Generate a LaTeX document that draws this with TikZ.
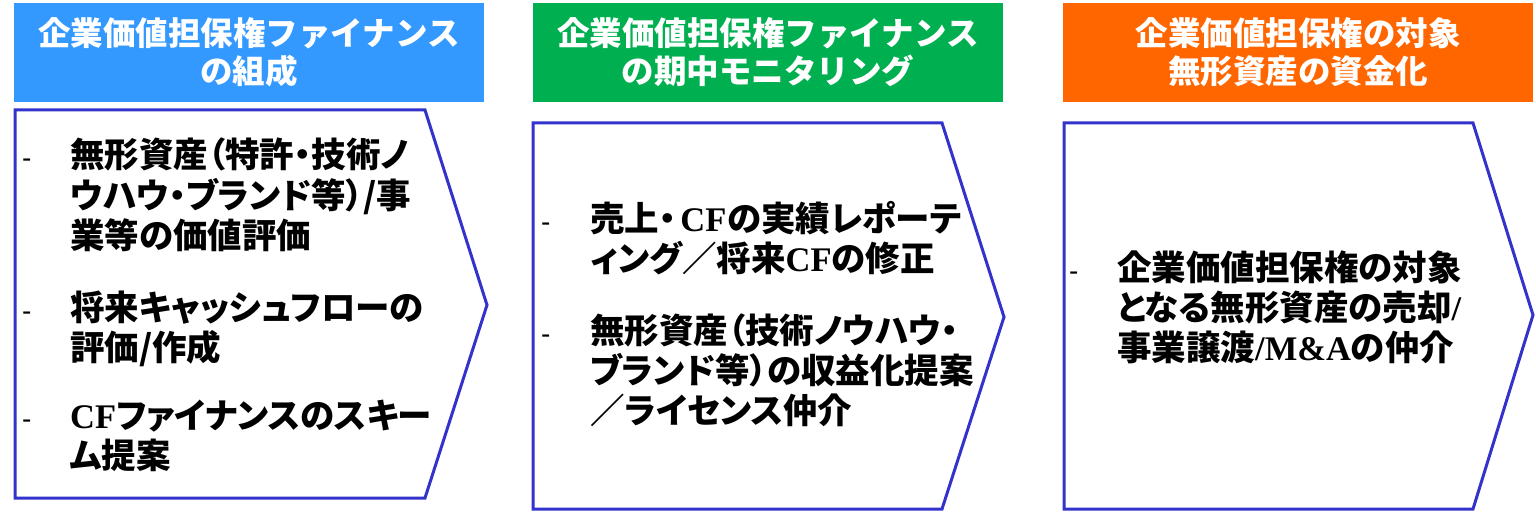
\documentclass[tikz,border=0pt]{standalone}
\usepackage{fontspec}
\setmainfont{Noto Sans CJK JP}
\newfontfamily\jpf{Noto Sans CJK JP}
\newfontfamily\jpp{Noto Sans CJK JP}[RawFeature=+palt]
\newfontfamily\lat{Liberation Serif}
\newfontfamily\dashf{Liberation Sans}
\definecolor{hblue}{RGB}{51,153,255}
\definecolor{hgreen}{RGB}{0,176,80}
\definecolor{horange}{RGB}{255,102,0}
\definecolor{bord}{RGB}{51,51,204}
\begin{document}
\begin{tikzpicture}[x=1pt,y=-1pt,
  hdr/.style={text=white, font=\jpf\bfseries\fontsize{32.5}{38}\selectfont, align=center, inner sep=0pt, minimum width=470pt, minimum height=99pt},
  chev/.style={draw=bord, line width=3pt, fill=white, line join=miter},
  txt/.style={anchor=base west, inner sep=0pt, font=\jpp\bfseries\fontsize{34.5}{40}\selectfont},
  dsh/.style={anchor=base west, inner sep=0pt, font=\dashf\fontsize{28}{34}\selectfont}]
\useasboundingbox (0,0) rectangle (1536,513);
% headers
\node[hdr, fill=hblue] (h1) at (249,52.5) {企業価値担保権ファイナンス\\の組成};
\node[hdr, fill=hgreen] (h2) at (768,52.5) {企業価値担保権ファイナンス\\の期中モニタリング};
\node[hdr, fill=horange] (h3) at (1298,52.5) {企業価値担保権の対象\\無形資産の資金化};
% chevrons
\draw[chev] (15,110) -- (425,110) -- (487,305) -- (425,498) -- (15,498) -- cycle;
\draw[chev] (533,123) -- (942,123) -- (1004,317) -- (942,509) -- (533,509) -- cycle;
\draw[chev] (1064,123) -- (1473,123) -- (1533,315) -- (1473,509) -- (1064,509) -- cycle;
% panel 1
\node[dsh] (d11) at (22,168) {-};
\node[dsh] (d12) at (22,320) {-};
\node[dsh] (d13) at (22,428) {-};
\node[txt] (t11) at (70,168) {無形資産（特許・技術ノ};
\node[txt] (t12) at (70,208) {ウハウ・ブランド等）/事};
\node[txt] (t13) at (70,248) {業等の価値評価};
\node[txt] (t14) at (70,320) {将来キャッシュフローの};
\node[txt] (t15) at (70,360) {評価/作成};
\node[txt] (t16) at (70,428) {{\lat CF}ファイナンスのスキー};
\node[txt] (t17) at (70,468) {ム提案};
% panel 2
\node[dsh] (d21) at (541,231) {-};
\node[dsh] (d22) at (541,343) {-};
\node[txt] (t21) at (590,231) {売上・\hspace{4pt}{\lat CF}\hspace{1pt}の実績レポーテ};
\node[txt] (t22) at (590,271) {ィング／将来{\lat CF}の修正};
\node[txt] (t23) at (590,343) {無形資産（技術ノウハウ・};
\node[txt] (t24) at (590,383) {ブランド等）の収益化提案};
\node[txt] (t25) at (590,423) {／ライセンス仲介};
% panel 3
\node[dsh] (d31) at (1069,280) {-};
\node[txt] (t31) at (1117,280) {企業価値担保権の対象};
\node[txt] (t32) at (1117,320) {となる無形資産の売却{\lat /}};
\node[txt] (t33) at (1117,360) {事業譲渡{\lat /M\&A}の仲介};
\end{tikzpicture}
\end{document}
